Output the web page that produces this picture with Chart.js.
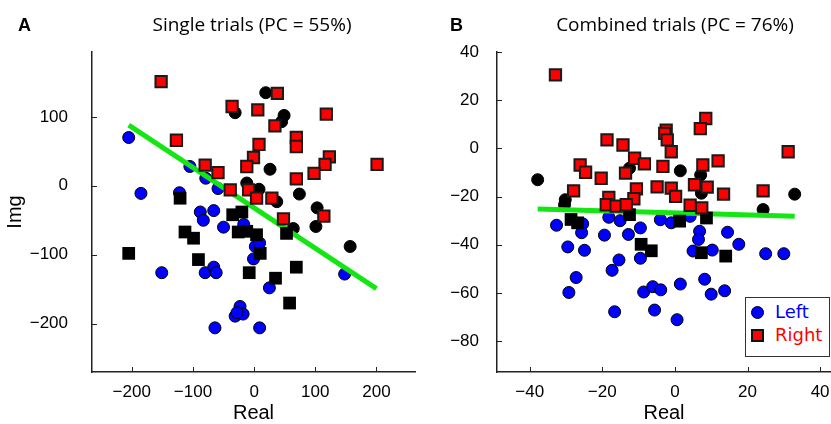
<!DOCTYPE html>
<html>
<head>
<meta charset="utf-8">
<script src="https://cdn.jsdelivr.net/npm/chart.js@4"></script>
<style>
  body { margin: 0; background: #fff; width: 831px; height: 424px; position: relative; overflow: hidden; }
  canvas { position: absolute; top: 0; }
  .lbl { position: absolute; white-space: nowrap; color: #000; }
  .letter { font: bold 18px "Liberation Sans", Arial, sans-serif; top: 15px; }
  .ttl { font: 19px "Open Sans", sans-serif; top: 11px; transform: translateX(-50%); }
  #legB { position: absolute; left: 745px; top: 297px; width: 83px; height: 58px; border: 1px solid #333; background: #fff;
          font: 18px "DejaVu Sans", sans-serif; }
  #legB div { position: absolute; left: 0; height: 20px; line-height: 20px; }
  #legB .mk { position: absolute; left: 5px; top: 4px; width: 12px; height: 12px; }
  #legB span.t { position: absolute; left: 29px; }
</style>
</head>
<body>
<canvas id="chA" width="416" height="424" style="left:0;width:416px;height:424px"></canvas>
<canvas id="chB" width="415" height="424" style="left:416px;width:415px;height:424px"></canvas>

<div class="lbl letter" style="left:18px">A</div>
<div class="lbl ttl" style="left:252px">Single trials (PC = 55%)</div>
<div class="lbl letter" style="left:450px">B</div>
<div class="lbl ttl" style="left:675px">Combined trials (PC = 76%)</div>

<div id="legB">
  <div style="top:4px;width:100%"><span class="mk" style="background:#00f;border:1px solid #000;border-radius:50%;width:11px;height:11px"></span><span class="t" style="color:#00f">Left</span></div>
  <div style="top:27px;width:100%"><span class="mk" style="background:#f00;border:2px solid #111;width:9px;height:9px"></span><span class="t" style="color:#f00">Right</span></div>
</div>

<script>
// ---- Panel A: single trials ----
const leftHitA = [
  [-205, 70], [-185, -11], [-122, -10], [-105, 28], [-79, 11], [-59, -4], [-88, -38], [-66, -36],
  [-83, -50], [-50, -60], [-17, -56], [2, -88], [9, -83], [-1, -106], [-151, -126], [-80, -126],
  [-66, -118], [-62, -126], [25, -148], [-23, -175], [-31, -189], [-18, -186], [-28, -184],
  [-64, -206], [9, -206], [148, -128]
];
const leftMissA = [
  [-31, 106], [19, 135], [49, 102], [45, 93], [26, 24], [-12, 4], [8, -5], [74, -12], [37, -23],
  [103, -32], [101, -59], [64, -62], [157, -88]
];
const rightHitA = [
  [-152, 151], [-36, 115], [6, 110], [38, 134], [-127, 66], [8, 60], [-1, 41], [-12, 28], [-80, 30],
  [-59, 19], [-39, -6], [-9, -6], [4, -18], [29, -18], [34, 87], [118, 104], [69, 70], [69, 57],
  [123, 42], [116, 31], [98, 18], [201, 31], [69, 10], [114, -44], [48, -48]
];
const rightMissA = [
  [-121, -18], [-35, -42], [-20, -38], [-113, -67], [-99, -76], [-26, -67], [-12, -66], [4, -71],
  [10, -98], [-205, -98], [-91, -107], [-8, -126], [69, -118], [35, -134], [58, -170], [53, -69]
];
const fitA = [[-205, 88], [200, -149]];

// ---- Panel B: combined trials ----
const leftHitB = [
  [-32.6, -31.9], [-25.4, -31.3], [-25.7, -35], [-18.2, -28.6], [-15.1, -30], [-19.4, -36], [-12.8, -35.7],
  [-9.5, -33], [-29.5, -40.9], [-24.9, -42.3], [-15.4, -46.3], [-9.5, -45.6], [-17.3, -50.6], [-27.2, -53.6],
  [-29.2, -59.8], [-8.6, -59.6], [-6.1, -57.4], [-3.9, -58.7], [-16.6, -67.8], [-5.6, -67.1], [0.6, -71.1],
  [-4.0, -29.6], [-1, -30.9], [4.2, -28.2], [6.8, -34.4], [6.5, -37.8], [14.5, -34.8], [17.6, -39.8],
  [5, -42.6], [10.3, -42.2], [25, -43.7], [30, -43.7], [1.5, -56.3], [8.2, -54.3], [10, -60.5], [13.7, -59.1]
];
const leftMissB = [
  [-37.8, -13], [-30.2, -21.3], [-30.4, -23.4], [-12.5, -8.2], [1.5, -9.3], [7.1, -11], [7.3, -18.6],
  [33, -19], [24.3, -25.4], [1.3, -28.9]
];
const rightHitB = [
  [-32.9, 30.5], [-18.7, 3.5], [-14.3, 1.4], [-11.1, -4.1], [-8.4, -6.4], [-26.1, -6.9], [-24.6, -9.9],
  [-20.3, -12.4], [-13.6, -10.3], [-27.9, -17.6], [-10.6, -16.8], [-11.3, -20.9], [-18.2, -20.3],
  [-4.9, -16], [8.5, 12.4], [7, 8.2], [-2.4, 7.6], [-2.8, 6.2], [-2.1, 3.5], [-1, -1.4], [-3.3, -7.5],
  [7.7, -6.9], [11.9, -5.2], [31.2, -1.4], [-1, -16.5], [0.2, -19.9], [5.4, -15.1], [8.9, -16.1],
  [13.4, -19], [24.3, -17.6], [4.2, -23.6], [7.4, -24.7], [-18.9, -23.4], [-16.2, -24], [-13.4, -23.4]
];
const rightMissB = [
  [-28.6, -29.5], [-26.8, -30.9], [-12.5, -27.5], [-9.3, -39.8], [-6.5, -42.5], [1.3, -30.2],
  [8.7, -28.9], [7.3, -43.3], [14, -44.7]
];
const fitB = [[-37.8, -25.2], [33, -28.2]];

const ticksAx = [-200, -100, 0, 100, 200];
const ticksAy = [-200, -100, 0, 100];
const ticksBx = [-40, -20, 0, 20, 40];
const ticksBy = [-80, -60, -40, -20, 0, 20, 40];

const FONT = '"Liberation Sans", Arial, sans-serif';
const pts = arr => arr.map(([x, y]) => ({ x, y }));
const minus = v => (v < 0 ? '\u2212' + Math.abs(v) : String(v));

// MATLAB style ticks point into the plot
const innerTicks = {
  id: 'innerTicks',
  afterDraw(chart) {
    const { ctx, chartArea: a, scales: { x, y } } = chart;
    ctx.save();
    ctx.strokeStyle = '#222';
    ctx.lineWidth = 1;
    ctx.beginPath();
    x.ticks.forEach(t => {
      const px = Math.round(x.getPixelForValue(t.value)) + 0.5;
      ctx.moveTo(px, a.bottom); ctx.lineTo(px, a.bottom - 5);
    });
    y.ticks.forEach(t => {
      const py = Math.round(y.getPixelForValue(t.value)) + 0.5;
      ctx.moveTo(a.left, py); ctx.lineTo(a.left + 5, py);
    });
    ctx.stroke();
    ctx.restore();
  }
};

function datasets(lh, lm, rh, rm, fit) {
  // first dataset is drawn on top
  return [
    { data: pts(rh), pointStyle: 'rect', pointRadius: 8, backgroundColor: '#ff0000', borderColor: '#1a1a1a', borderWidth: 2 },
    { data: pts(rm), pointStyle: 'rect', pointRadius: 9, backgroundColor: '#000', borderColor: '#000', borderWidth: 0 },
    { data: pts(fit), showLine: true, pointRadius: 0, borderColor: '#14e614', borderWidth: 5, fill: false },
    { data: pts(lm), pointStyle: 'circle', pointRadius: 6, backgroundColor: '#000', borderColor: '#000', borderWidth: 1 },
    { data: pts(lh), pointStyle: 'circle', pointRadius: 6, backgroundColor: '#0000ff', borderColor: '#000', borderWidth: 1 }
  ];
}

function axis(min, max, tickVals, pad, fitSize, isY, title) {
  return {
    type: 'linear', min, max,
    grid: { display: false },
    border: { display: true, color: '#222', width: 1.5 },
    afterBuildTicks: s => { s.ticks = tickVals.map(v => ({ value: v })); },
    afterFit: s => {
      if (isY) s.width = fitSize; else s.height = fitSize;
      s.paddingLeft = s.paddingRight = s.paddingTop = s.paddingBottom = 0;
    },
    ticks: { color: '#000', padding: pad, font: { family: FONT, size: 17 }, callback: minus, maxRotation: 0, autoSkip: false },
    title: title
      ? { display: true, text: title, color: '#000', font: { family: FONT, size: 20 }, padding: isY ? { top: 3 } : { bottom: -1 } }
      : { display: false }
  };
}

function makeChart(id, sets, xr, yr, xt, yt, yWidth, yPad, padRight, yTitle) {
  return new Chart(document.getElementById(id), {
    type: 'scatter',
    data: { datasets: sets },
    options: {
      responsive: false,
      animation: false,
      layout: { autoPadding: false, padding: { top: 52, right: padRight, bottom: 0, left: 0 } },
      plugins: { legend: { display: false }, tooltip: { enabled: false } },
      scales: {
        x: axis(xr[0], xr[1], xt, 2, 52, false, 'Real'),
        y: axis(yr[0], yr[1], yt, yPad, yWidth, true, yTitle)
      }
    },
    plugins: [innerTicks]
  });
}

makeChart('chA', datasets(leftHitA, leftMissA, rightHitA, rightMissA, fitA),
  [-265, 263], [-270, 194], ticksAx, ticksAy, 92, 16, 1, 'Img');
makeChart('chB', datasets(leftHitB, leftMissB, rightHitB, rightMissB, fitB),
  [-49, 43], [-92.8, 40], ticksBx, ticksBy, 81, 10, 0, null);
</script>
</body>
</html>
